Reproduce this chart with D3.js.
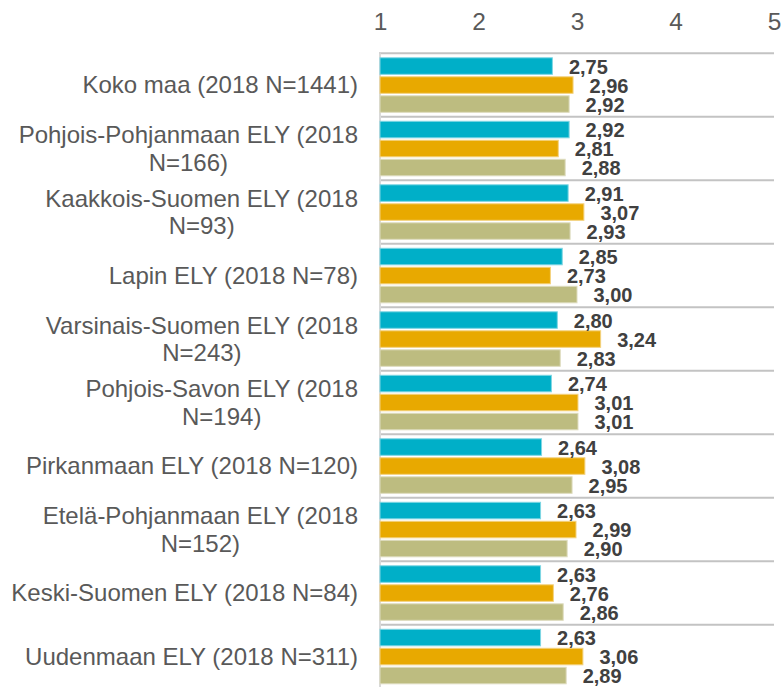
<!DOCTYPE html>
<html>
<head>
<meta charset="utf-8">
<script src="https://cdn.jsdelivr.net/npm/d3@7"></script>
<style>
  html, body { margin: 0; padding: 0; background: #ffffff; }
  svg { display: block; font-family: "Liberation Sans", Arial, sans-serif; }
</style>
</head>
<body>
<svg id="chart" width="784" height="687"></svg>
<script>
// ---- data ----
const categories = [
  "Koko maa (2018 N=1441)",
  "Pohjois-Pohjanmaan ELY (2018\nN=166)",
  "Kaakkois-Suomen ELY (2018\nN=93)",
  "Lapin ELY (2018 N=78)",
  "Varsinais-Suomen ELY (2018\nN=243)",
  "Pohjois-Savon ELY (2018\nN=194)",
  "Pirkanmaan ELY (2018 N=120)",
  "Etelä-Pohjanmaan ELY (2018\nN=152)",
  "Keski-Suomen ELY (2018 N=84)",
  "Uudenmaan ELY (2018 N=311)"
];
const seriesNames = ["s1", "s2", "s3"];
const series1 = [2.75, 2.92, 2.91, 2.85, 2.80, 2.74, 2.64, 2.63, 2.63, 2.63];
const series2 = [2.96, 2.81, 3.07, 2.73, 3.24, 3.01, 3.08, 2.99, 2.76, 3.06];
const series3 = [2.92, 2.88, 2.93, 3.00, 2.83, 3.01, 2.95, 2.90, 2.86, 2.89];
const tickValues = [1, 2, 3, 4, 5];
const colors = ["#00AFC8", "#E8A900", "#BDBC80"];
const strokeColors = ["#7fd6e3", "#f3d27f", "#dedcbf"];

// ---- layout ----
const svg = d3.select("#chart");
const xStart = 380, xEnd = 774;
const plotTop = 53.3, band = 63.5;

const x = d3.scaleLinear().domain([1, 5]).range([xStart, xEnd]);
const y = d3.scaleBand().domain(d3.range(categories.length))
  .range([plotTop, plotTop + band * categories.length]).padding(0);
const ySub = d3.scaleBand().domain(seriesNames)
  .range([0, y.bandwidth()]).paddingInner(0.13).paddingOuter(0.236);

const allSeries = [series1, series2, series3];
const rows = [];
categories.forEach((c, i) => {
  allSeries.forEach((s, j) => rows.push({ i, j, key: seriesNames[j], v: s[i] }));
});

const locale = d3.formatLocale({ decimal: ",", thousands: " ", grouping: [3], currency: ["", "€"] });
const fmt = locale.format(".2f");

// gridlines between groups
svg.append("g").selectAll("line")
  .data(d3.range(categories.length + 1))
  .join("line")
  .attr("x1", xStart - 1).attr("x2", xEnd)
  .attr("y1", d => plotTop + d * band).attr("y2", d => plotTop + d * band)
  .attr("stroke", "#c3c3c3").attr("stroke-width", 2);

// vertical axis line
svg.append("line")
  .attr("x1", xStart).attr("x2", xStart)
  .attr("y1", plotTop).attr("y2", 687)
  .attr("stroke", "#d9d9d9").attr("stroke-width", 2);

// top axis
const axis = svg.append("g").attr("transform", "translate(0,30)")
  .call(d3.axisTop(x).tickValues(tickValues).tickSize(0).tickPadding(0).tickFormat(d3.format("d")));
axis.attr("font-size", null).attr("font-family", null);
axis.select(".domain").remove();
axis.selectAll("text")
  .attr("y", 0).attr("dy", "0")
  .attr("fill", "#595959")
  .style("font-size", "24.5px")
  .style("font-family", "'Liberation Sans', Arial, sans-serif");

// bars
svg.append("g").selectAll("rect")
  .data(rows)
  .join("rect")
  .attr("x", x(1))
  .attr("y", d => y(d.i) + ySub(d.key))
  .attr("width", d => x(d.v) - x(1))
  .attr("height", ySub.bandwidth())
  .attr("fill", d => colors[d.j])
  .attr("stroke", d => strokeColors[d.j])
  .attr("stroke-width", 1);

// value labels
svg.append("g").selectAll("text")
  .data(rows)
  .join("text")
  .attr("x", d => x(d.v) + 16.5)
  .attr("y", d => y(d.i) + ySub(d.key) + ySub.bandwidth() / 2 + 7.8)
  .attr("fill", "#404040")
  .style("font-size", "20px")
  .style("font-weight", "bold")
  .text(d => fmt(d.v));

// category labels
const labelRight = 358;
const lineH = 27.3;
const fs = 24;
const catG = svg.append("g");
categories.forEach((c, i) => {
  const lines = c.split("\n");
  const t = catG.append("text")
    .attr("fill", "#595959")
    .style("font-size", fs + "px");
  const center = y(i) + y.bandwidth() / 2;
  const spans = lines.map((ln, k) => t.append("tspan")
    .attr("y", center + (k - (lines.length - 1) / 2) * lineH + 0.35 * fs)
    .text(ln));
  const maxW = d3.max(spans, s => s.node().getComputedTextLength());
  spans.forEach(s => s.attr("x", labelRight - maxW / 2).attr("text-anchor", "middle"));
});
</script>
</body>
</html>
